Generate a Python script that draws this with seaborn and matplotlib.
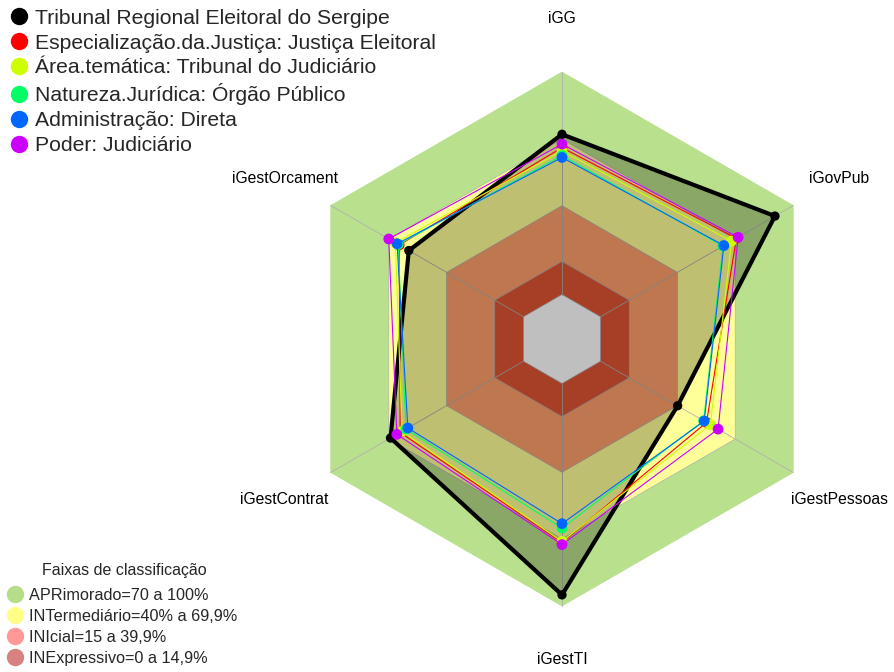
import numpy as np
import matplotlib
matplotlib.use("Agg")
import matplotlib.pyplot as plt
from matplotlib.lines import Line2D
import pandas as pd
import seaborn as sns

# axes (clockwise from top)
axes_names = ['iGG', 'iGovPub', 'iGestPessoas', 'iGestTI', 'iGestContrat', 'iGestOrcament']

# series values (% per axis)
tre_se = [72, 90.5, 40, 95, 69, 59.5]
especializacao = [66, 70.5, 55, 71.5, 64, 64.5]
area_tematica = [64.5, 68, 57, 71, 63, 66.5]
natureza = [62.5, 63.5, 53.5, 65, 61, 65]
administracao = [61.6, 64, 53.8, 63, 60, 65.6]
poder = [67.6, 71.4, 61, 72.4, 65.7, 69.9]

series_names = ['Tribunal Regional Eleitoral do Sergipe',
                'Especialização.da.Justiça: Justiça Eleitoral',
                'Área.temática: Tribunal do Judiciário',
                'Natureza.Jurídica: Órgão Público',
                'Administração: Direta',
                'Poder: Judiciário']
series_values = [tre_se, especializacao, area_tematica, natureza, administracao, poder]
series_colors = ['#000000', '#FF0000', '#CCFF00', '#00FF66', '#0066FF', '#CC00FF']

# classification bands (upper limits in %)
band_limits = [100, 69.9, 39.9, 14.9]
band_fill = ['#b9e08c', '#ffff99', '#ffa06b', '#e05535']
band_legend_colors = ['#b5dd8a', '#ffff88', '#ff9999', '#d98080']
band_labels = ['APRimorado=70 a 100%', 'INTermediário=40% a 69,9%',
               'INIcial=15 a 39,9%', 'INExpressivo=0 a 14,9%']

sns.set_theme(style="white")
plt.rcParams['font.family'] = ['Liberation Sans', 'DejaVu Sans']

r0 = 1 / 6
angles = np.deg2rad(90 - 60 * np.arange(len(axes_names)))


def to_xy(vals):
    r = r0 + (1 - r0) * np.asarray(vals, dtype=float) / 100
    r = np.append(r, r[0])
    a = np.append(angles, angles[0])
    return r * np.cos(a), r * np.sin(a)


fig = plt.figure(figsize=(8.95, 6.72), dpi=100)
ax = fig.add_axes([0, 0, 1, 1])

# bands
for lim, col in zip(band_limits, band_fill):
    bx, by = to_xy([lim] * 6)
    ax.fill(bx, by, color=col, lw=0.5, ec='#b0b0b0' if lim < 100 else col, zorder=1)
bx, by = to_xy([0] * 6)
ax.fill(bx, by, color='white', lw=0.5, ec='#b0b0b0', zorder=1)

# radial grid
for a in angles:
    ax.plot([r0 * np.cos(a), np.cos(a)], [r0 * np.sin(a), np.sin(a)],
            color='#b0b0b0', lw=0.6, zorder=2)

# labels
for name, a in zip(axes_names, angles):
    ax.text(1.2 * np.cos(a), 1.2 * np.sin(a), name, ha='center', va='center',
            fontsize=11.3, color='black')

# series
for i, (name, vals, col) in enumerate(zip(series_names, series_values, series_colors)):
    x, y = to_xy(vals)
    df = pd.DataFrame({'x': x, 'y': y})
    if i == 0:
        ax.fill(x, y, color='black', alpha=0.25, lw=0, zorder=3)
        sns.lineplot(data=df, x='x', y='y', sort=False, estimator=None, color=col,
                     lw=3, ax=ax, zorder=4)
        sns.scatterplot(data=df.iloc[:-1], x='x', y='y', color=col, s=45,
                        edgecolor='none', ax=ax, zorder=5)
    else:
        sns.lineplot(data=df, x='x', y='y', sort=False, estimator=None, color=col,
                     lw=0.8, ax=ax, zorder=5 + i)
        sns.scatterplot(data=df.iloc[:-1], x='x', y='y', color=col, s=60,
                        edgecolor='none', ax=ax, zorder=5 + i)
ax.set_xlim(-562 / 267, (895 - 562) / 267)
ax.set_ylim((339 - 672) / 267, 339 / 267)
ax.set_aspect('equal')
ax.axis('off')

# legends
h1 = [Line2D([], [], ls='none', marker='o', ms=11.5, mfc=c, mec=c) for c in series_colors]
fig.legend(h1, series_names, loc='upper left', bbox_to_anchor=(-0.005, 1.006),
           frameon=False, fontsize=15.2, handletextpad=0.25, labelspacing=0.28,
           borderaxespad=0.2, handlelength=1.0)

h2 = [Line2D([], [], ls='none', marker='o', ms=11.5, mfc=c, mec=c) for c in band_legend_colors]
fig.legend(h2, band_labels, loc='lower left', bbox_to_anchor=(-0.004, -0.005),
           frameon=False, fontsize=11.7, handletextpad=0.3, labelspacing=0.36,
           borderaxespad=0.2, handlelength=1.1)
fig.text(124 / 895, 1 - 570 / 672, 'Faixas de classificação', ha='center', va='center',
         fontsize=11.5)

fig.savefig('out.png', dpi=100)
